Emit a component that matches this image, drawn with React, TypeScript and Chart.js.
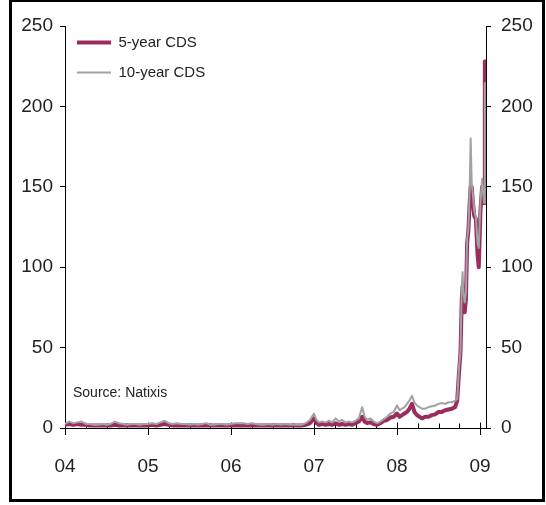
import { useEffect, useRef } from "react";
import { Chart, registerables } from "chart.js";

Chart.register(...registerables);

// Year ticks on the time axis and their two-digit labels
const yearTicks = [2004, 2005, 2006, 2007, 2008, 2009];
const yearLabels = ["04", "05", "06", "07", "08", "09"];

// Observation dates (decimal years)
const dates = [
  2004.0, 2004.05, 2004.1, 2004.15, 2004.2, 2004.25, 2004.3, 2004.35, 2004.4, 2004.45,
  2004.5, 2004.55, 2004.6, 2004.65, 2004.7, 2004.75, 2004.8, 2004.85, 2004.9, 2004.95,
  2005.0, 2005.05, 2005.1, 2005.15, 2005.2, 2005.25, 2005.3, 2005.35, 2005.4, 2005.45,
  2005.5, 2005.55, 2005.6, 2005.65, 2005.7, 2005.75, 2005.8, 2005.85, 2005.9, 2005.95,
  2006.0, 2006.05, 2006.1, 2006.15, 2006.2, 2006.25, 2006.3, 2006.35, 2006.4, 2006.45,
  2006.5, 2006.55, 2006.6, 2006.65, 2006.7, 2006.75, 2006.8, 2006.85, 2006.9, 2006.95,
  2007.0, 2007.03, 2007.06, 2007.1, 2007.14, 2007.18, 2007.22, 2007.26, 2007.3, 2007.34,
  2007.38, 2007.42, 2007.46, 2007.5, 2007.54, 2007.58, 2007.61, 2007.64, 2007.68, 2007.72,
  2007.76, 2007.8, 2007.84, 2007.88, 2007.92, 2007.96, 2008.0, 2008.03, 2008.06, 2008.09,
  2008.12, 2008.15, 2008.18, 2008.21, 2008.24, 2008.27, 2008.3, 2008.34, 2008.38, 2008.42,
  2008.46, 2008.5, 2008.54, 2008.58, 2008.62, 2008.66, 2008.7, 2008.725, 2008.745, 2008.765,
  2008.78, 2008.79, 2008.8, 2008.815, 2008.83, 2008.845, 2008.86, 2008.875, 2008.887, 2008.9,
  2008.915, 2008.93, 2008.95, 2008.97, 2008.985, 2009.005, 2009.025, 2009.04, 2009.05, 2009.058,
];

// 5-year CDS spread
const cds5y = [
  2.0, 2.5, 2.0, 2.5, 2.0, 2.0, 1.5, 1.5, 1.5, 1.5,
  1.5, 1.5, 2.0, 1.5, 1.5, 1.5, 1.5, 1.5, 1.5, 1.5,
  1.5, 2.0, 1.5, 2.0, 2.5, 2.0, 1.5, 1.5, 1.5, 1.5,
  1.5, 1.5, 1.5, 1.5, 1.5, 1.5, 1.5, 1.5, 1.5, 1.5,
  1.5, 1.5, 1.5, 1.5, 1.5, 1.5, 1.5, 1.5, 1.5, 1.5,
  1.5, 1.5, 1.5, 1.5, 1.5, 1.5, 1.5, 1.5, 2.0, 3.0,
  6.0, 3.0, 2.0, 2.5, 2.0, 2.5, 2.0, 3.0, 2.0, 2.5,
  2.0, 2.5, 2.0, 3.0, 4.0, 7.0, 4.0, 3.0, 3.5, 2.5,
  2.0, 3.0, 4.5, 5.0, 6.5, 7.0, 9.0, 7.0, 8.0, 9.0,
  10.0, 12.0, 15.0, 10.0, 8.0, 7.0, 6.0, 7.0, 7.0, 8.0,
  8.5, 10.0, 10.0, 11.0, 11.5, 12.0, 13.0, 17.0, 33.0, 47.0,
  80.0, 88.0, 72.0, 72.0, 80.0, 115.0, 123.0, 140.0, 150.0, 150.0,
  140.0, 132.0, 130.0, 108.0, 100.0, 135.0, 150.0, 140.0, 140.0, 228.0,
];

// 10-year CDS spread
const cds10y = [
  2.5, 4.0, 3.0, 3.5, 4.0, 2.5, 2.5, 2.0, 2.0, 2.5,
  2.0, 2.5, 4.0, 3.0, 2.5, 2.0, 2.5, 2.5, 2.0, 2.5,
  2.5, 3.0, 2.5, 3.5, 4.5, 3.0, 2.5, 3.0, 2.5, 2.5,
  2.0, 2.5, 2.0, 2.5, 3.0, 2.0, 2.0, 2.5, 2.5, 2.0,
  2.5, 3.0, 3.0, 3.0, 2.5, 3.0, 2.5, 2.0, 2.0, 2.5,
  2.0, 2.5, 2.0, 2.5, 2.0, 2.0, 2.0, 2.0, 3.0, 5.0,
  9.0, 5.0, 3.5, 4.0, 3.5, 4.5, 3.5, 6.0, 4.0, 5.0,
  3.5, 4.0, 3.5, 4.5, 6.0, 13.0, 7.0, 5.0, 6.0, 4.0,
  3.0, 4.0, 5.5, 7.0, 9.0, 10.0, 14.0, 11.0, 12.0, 13.0,
  15.0, 17.0, 20.0, 16.0, 14.0, 13.0, 12.0, 12.0, 13.0, 13.5,
  14.0, 15.0, 15.5, 15.0, 16.0, 16.0, 17.0, 18.0, 36.0, 48.0,
  88.0, 97.0, 85.0, 78.0, 84.0, 118.0, 124.0, 148.0, 180.0, 152.0,
  145.0, 135.0, 131.0, 115.0, 112.0, 140.0, 155.0, 145.0, 140.0, 215.0,
];

const FONT = "'Liberation Sans', Arial, sans-serif";
const TEXT = "#222222";
const MAROON = "#9b2c5e";
const GREY = "#a2a2a2";

const chartDecor = {
  id: "chartDecor",
  afterLayout(chart: any) {
    // put the legend block in the upper-left corner of the plot
    const lg = chart.legend;
    if (lg) {
      lg.left = chart.chartArea.left - 3;
      lg.top = chart.chartArea.top - 6;
    }
  },
  beforeDatasetsDraw(chart: any) {
    const { ctx, chartArea, scales } = chart;
    const x = scales.x;
    const yb = Math.round(chartArea.bottom) + 0.5;
    ctx.save();
    ctx.strokeStyle = "#000";
    ctx.lineWidth = 1;
    ctx.beginPath();
    // quarterly minor ticks above the axis
    for (let yr = 2004; yr < 2009.1; yr += 0.25) {
      const px = Math.round(x.getPixelForValue(yr)) + 0.5;
      if (px > chartArea.right) break;
      const major = Math.abs(yr - Math.round(yr)) < 1e-6;
      ctx.moveTo(px, yb);
      ctx.lineTo(px, yb - (major ? 6 : 5));
    }
    ctx.stroke();
    ctx.restore();
  },
  afterDraw(chart: any) {
    const { ctx, chartArea } = chart;
    ctx.save();
    ctx.fillStyle = TEXT;
    ctx.font = `14px ${FONT}`;
    ctx.textBaseline = "middle";
    ctx.textAlign = "left";
    ctx.fillText("Source: Natixis", chartArea.left + 8, 393);
    // outer frame
    ctx.fillStyle = "#000";
    ctx.fillRect(9, 0, 536, 2);
    ctx.fillRect(9, 0, 3, 502);
    ctx.fillRect(542, 0, 3, 502);
    ctx.fillRect(9, 499, 536, 3);
    ctx.restore();
  },
};

export default function App() {
  const canvasRef = useRef<HTMLCanvasElement | null>(null);

  useEffect(() => {
    const canvas = canvasRef.current;
    if (!canvas) return;
    const chart = new Chart(canvas, {
      type: "line",
      data: {
        datasets: [
          {
            label: "5-year CDS",
            data: dates.map((d, i) => ({ x: d, y: cds5y[i] })),
            borderColor: MAROON,
            backgroundColor: MAROON,
            borderWidth: 4,
            borderCapStyle: "round",
            borderJoinStyle: "round",
            pointRadius: 0,
            pointStyle: "line",
            tension: 0,
            order: 1,
            yAxisID: "y",
          },
          {
            label: "10-year CDS",
            data: dates.map((d, i) => ({ x: d, y: cds10y[i] })),
            borderColor: GREY,
            backgroundColor: GREY,
            borderWidth: 2,
            borderJoinStyle: "round",
            pointRadius: 0,
            pointStyle: "line",
            tension: 0,
            order: 0,
            yAxisID: "y",
          },
        ],
      },
      options: {
        responsive: false,
        animation: false,
        devicePixelRatio: 1,
        layout: { padding: { top: 26, left: 0, right: 0, bottom: 0 } },
        plugins: {
          tooltip: { enabled: false },
          legend: {
            position: "chartArea",
            align: "start",
            labels: {
              usePointStyle: true,
              pointStyleWidth: 34,
              padding: 15,
              color: TEXT,
              font: { family: FONT, size: 15 },
              sort: (a: any, b: any) => a.datasetIndex - b.datasetIndex,
            },
          },
        },
        scales: {
          x: {
            type: "linear",
            position: "bottom",
            min: 2004,
            max: 2009.072,
            afterBuildTicks: (scale: any) => {
              scale.ticks = yearTicks.map((v) => ({ value: v }));
            },
            afterFit: (scale: any) => {
              scale.height = 77;
            },
            grid: {
              drawOnChartArea: false,
              drawTicks: true,
              tickLength: 7,
              color: "#000",
            },
            border: { display: true, color: "#000", width: 1 },
            ticks: {
              padding: 20,
              color: TEXT,
              font: { family: FONT, size: 19 },
              maxRotation: 0,
              autoSkip: false,
              callback: (v: any) => yearLabels[yearTicks.indexOf(Number(v))] ?? "",
            },
          },
          y: {
            position: "left",
            min: 0,
            max: 250,
            afterFit: (scale: any) => {
              scale.width = 65;
            },
            grid: { drawOnChartArea: false, drawTicks: true, tickLength: 5, color: "#000" },
            border: { display: true, color: "#000", width: 1 },
            ticks: {
              stepSize: 50,
              padding: 7,
              color: TEXT,
              font: { family: FONT, size: 19 },
            },
          },
          y2: {
            position: "right",
            min: 0,
            max: 250,
            afterFit: (scale: any) => {
              scale.width = 60;
            },
            grid: { drawOnChartArea: false, drawTicks: true, tickLength: 5, color: "#000" },
            border: { display: true, color: "#000", width: 1 },
            ticks: {
              stepSize: 50,
              padding: 10,
              color: TEXT,
              font: { family: FONT, size: 19 },
            },
          },
        },
      },
      plugins: [chartDecor],
    });
    return () => chart.destroy();
  }, []);

  return (
    <div style={{ position: "absolute", left: 0, top: 0, width: 546, height: 505, background: "#fff" }}>
      <canvas ref={canvasRef} width={546} height={505} />
    </div>
  );
}
